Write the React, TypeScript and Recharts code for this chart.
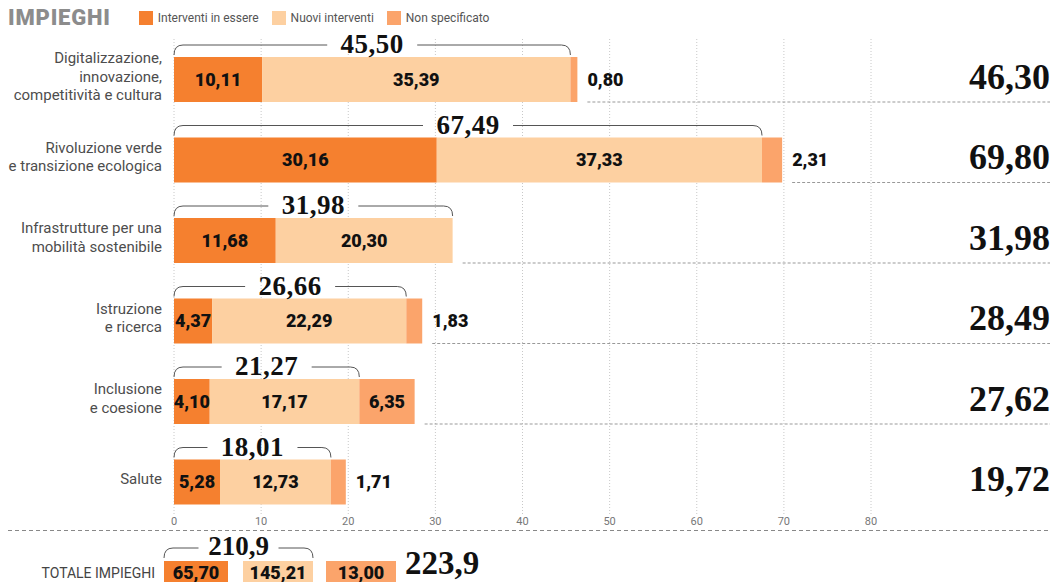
import { BarChart, Bar, XAxis, YAxis, CartesianGrid, LabelList } from "recharts"

if (typeof document !== "undefined") document.body.style.margin = "0"

// ---------------------------------------------------------------------------
// Dati
// ---------------------------------------------------------------------------

const categorie = [
  ["Digitalizzazione,", "innovazione,", "competitività e cultura"],
  ["Rivoluzione verde", "e transizione ecologica"],
  ["Infrastrutture per una", "mobilità sostenibile"],
  ["Istruzione", "e ricerca"],
  ["Inclusione", "e coesione"],
  ["Salute"],
]
const interventiInEssere = [10.11, 30.16, 11.68, 4.37, 4.1, 5.28]
const nuoviInterventi = [35.39, 37.33, 20.3, 22.29, 17.17, 12.73]
const nonSpecificato = [0.8, 2.31, 0, 1.83, 6.35, 1.71]

const xTicks = [0, 10, 20, 30, 40, 50, 60, 70, 80]

const serie = ["Interventi in essere", "Nuovi interventi", "Non specificato"]
const totaleImpieghi = [65.7, 145.21, 13.0]

// ---------------------------------------------------------------------------
// Stile
// ---------------------------------------------------------------------------

const W = 1057
const CHART_H = 530
const RIGHT_EDGE = 1050

const C_ESSERE = "#f5802f"
const C_NUOVI = "#fdd0a1"
const C_NONSPEC = "#fba46b"
const colori = [C_ESSERE, C_NUOVI, C_NONSPEC]

const SANS = "Roboto, 'Noto Sans', sans-serif"
const SERIF = "'Liberation Serif', 'DejaVu Serif', serif"

const fmt = (v: number, d = 2) => v.toFixed(d).replace(".", ",")

const data = categorie.map((lines, i) => ({
  name: lines.join(" "),
  lines,
  essere: interventiInEssere[i],
  nuovi: nuoviInterventi[i],
  nonSpec: nonSpecificato[i],
  sub: interventiInEssere[i] + nuoviInterventi[i],
  tot: interventiInEssere[i] + nuoviInterventi[i] + nonSpecificato[i],
}))

const findRow = (name: string) => data.find((d) => d.name === name)

// ---------------------------------------------------------------------------
// Tick e label
// ---------------------------------------------------------------------------

function CategoryTick({ x, y, payload }: any) {
  const row = findRow(payload.value)
  if (!row) return null
  const lh = 18.5
  const y0 = y - ((row.lines.length - 1) * lh) / 2 - 3
  return (
    <text x={x} y={y0} textAnchor="end" fontSize={15} fill="#4d4d4d" fontFamily={SANS}>
      {row.lines.map((l, i) => (
        <tspan key={i} x={x} y={y0 + i * lh} dy="0.35em">
          {l}
        </tspan>
      ))}
    </text>
  )
}

function TotalTick({ x, y, payload }: any) {
  const row = findRow(payload.value)
  if (!row) return null
  return (
    <text
      x={x + 179}
      y={y - 3}
      dy="0.35em"
      textAnchor="end"
      fontSize={36}
      fontWeight={700}
      fill="#111"
      fontFamily={SERIF}
    >
      {fmt(row.tot)}
    </text>
  )
}

function XTick({ x, y, payload }: any) {
  return (
    <text
      x={x}
      y={y - 1}
      dy="0.35em"
      textAnchor="middle"
      fontSize={11}
      fill="#777"
      fontFamily={SANS}
      stroke="#fff"
      strokeWidth={4}
      paintOrder="stroke"
    >
      {payload.value}
    </text>
  )
}

const valueStyle = {
  fontSize: 18,
  fontWeight: 900,
  fill: "#111",
  fontFamily: SANS,
}

function EssereLabel(props: any) {
  const { x, y, width, height, index } = props
  const d = data[index]
  if (!d) return null
  const unit = width / d.essere
  const subEnd = x + unit * d.sub
  const barEnd = x + unit * d.tot
  const by = y - 12
  const r = 9
  const label = fmt(d.sub)
  const gap = label.length * 7 + 10
  const mid = (x + subEnd) / 2
  return (
    <g>
      <path
        d={`M${x},${y - 2} Q${x},${by} ${x + r},${by} L${mid - gap},${by} M${mid + gap},${by} L${subEnd - r},${by} Q${subEnd},${by} ${subEnd},${y - 2}`}
        fill="none"
        stroke="#555"
        strokeWidth={1}
      />
      <text
        x={mid}
        y={by - 1}
        dy="0.35em"
        textAnchor="middle"
        fontSize={27}
        fontWeight={700}
        letterSpacing={0.5}
        fill="#111"
        fontFamily={SERIF}
      >
        {label}
      </text>
      <text x={x + width / 2} y={y + height / 2} dy="0.35em" textAnchor="middle" {...valueStyle}>
        {fmt(d.essere)}
      </text>
      {index < data.length - 1 && (
        <line
          x1={barEnd + 10}
          x2={RIGHT_EDGE}
          y1={y + height}
          y2={y + height}
          stroke="#999"
          strokeDasharray="3 2"
        />
      )}
    </g>
  )
}

function NuoviLabel(props: any) {
  const { x, y, width, height, value } = props
  return (
    <text x={x + width / 2} y={y + height / 2} dy="0.35em" textAnchor="middle" {...valueStyle}>
      {fmt(value)}
    </text>
  )
}

function NonSpecLabel(props: any) {
  const { x, y, width, height, value } = props
  if (!value) return null
  const inside = width > 40
  return (
    <text
      x={inside ? x + width / 2 : x + width + 10}
      y={y + height / 2}
      dy="0.35em"
      textAnchor={inside ? "middle" : "start"}
      {...valueStyle}
    >
      {fmt(value)}
    </text>
  )
}

// ---------------------------------------------------------------------------
// Riga totale
// ---------------------------------------------------------------------------

function TotaleRow() {
  const boxes = [
    { x: 164, w: 64 },
    { x: 243, w: 70 },
    { x: 326, w: 70 },
  ]
  const sub = totaleImpieghi[0] + totaleImpieghi[1]
  const tot = totaleImpieghi.reduce((a, b) => a + b, 0)
  const bx0 = boxes[0].x
  const bx1 = boxes[1].x + boxes[1].w
  const by = 18
  const mid = (bx0 + bx1) / 2
  const r = 9
  return (
    <svg width={W} height={52} style={{ position: "absolute", left: 0, top: CHART_H, display: "block" }}>
      <line x1={8} x2={RIGHT_EDGE} y1={0.5} y2={0.5} stroke="#888" strokeDasharray="4 3" />
      <text x={155} y={43} dy="0.35em" textAnchor="end" fontSize={14} fill="#444" fontFamily={SANS}>
        TOTALE IMPIEGHI
      </text>
      <path
        d={`M${bx0},${by + 10} Q${bx0},${by} ${bx0 + r},${by} L${mid - 40},${by} M${mid + 40},${by} L${bx1 - r},${by} Q${bx1},${by} ${bx1},${by + 10}`}
        fill="none"
        stroke="#555"
      />
      <text x={mid} y={by - 2} dy="0.35em" textAnchor="middle" fontSize={27} fontWeight={700} fill="#111" fontFamily={SERIF}>
        {fmt(sub, 1)}
      </text>
      {boxes.map((b, i) => (
        <g key={i}>
          <rect x={b.x} y={31} width={b.w} height={21} fill={colori[i]} />
          <text x={b.x + b.w / 2} y={43} dy="0.35em" textAnchor="middle" {...valueStyle}>
            {fmt(totaleImpieghi[i])}
          </text>
        </g>
      ))}
      <text x={405} y={44} fontSize={33} fontWeight={700} fill="#111" fontFamily={SERIF}>
        {fmt(tot, 1)}
      </text>
    </svg>
  )
}

// ---------------------------------------------------------------------------
// App
// ---------------------------------------------------------------------------

export default function App() {
  return (
    <div style={{ position: "relative", width: W, height: 582, background: "#fff", overflow: "hidden" }}>
      <div
        style={{
          position: "absolute",
          left: 8,
          top: 5,
          display: "flex",
          alignItems: "center",
          fontFamily: SANS,
        }}
      >
        <span style={{ fontSize: 22, fontWeight: 900, color: "#8c8c8c", letterSpacing: 0.8, marginRight: 28 }}>
          IMPIEGHI
        </span>
        {serie.map((s, i) => (
          <span key={s} style={{ display: "flex", alignItems: "center", marginRight: 13, fontSize: 12, color: "#555" }}>
            <span style={{ display: "inline-block", width: 14, height: 14, background: colori[i], marginRight: 5 }} />
            {s}
          </span>
        ))}
      </div>

      <BarChart
        width={W}
        height={CHART_H}
        data={data}
        layout="vertical"
        margin={{ top: 39, right: 0, bottom: 0, left: 8 }}
        barSize={45}
        style={{ position: "absolute", left: 0, top: 0 }}
      >
        <CartesianGrid horizontal={false} stroke="#c8c8c8" strokeDasharray="1 2" />
        <XAxis
          type="number"
          domain={[0, 80]}
          ticks={xTicks}
          axisLine={false}
          tickLine={false}
          tickSize={0}
          tickMargin={0}
          height={8}
          tick={<XTick />}
        />
        <YAxis
          yAxisId="left"
          type="category"
          dataKey="name"
          width={166}
          axisLine={false}
          tickLine={false}
          tickSize={0}
          tickMargin={12}
          tick={<CategoryTick />}
        />
        <YAxis
          yAxisId="right"
          orientation="right"
          type="category"
          dataKey="name"
          width={186}
          axisLine={false}
          tickLine={false}
          tickSize={0}
          tickMargin={0}
          tick={<TotalTick />}
        />
        <Bar yAxisId="left" dataKey="essere" stackId="a" fill={C_ESSERE} isAnimationActive={false}>
          <LabelList dataKey="essere" content={<EssereLabel />} />
        </Bar>
        <Bar yAxisId="left" dataKey="nuovi" stackId="a" fill={C_NUOVI} isAnimationActive={false}>
          <LabelList dataKey="nuovi" content={<NuoviLabel />} />
        </Bar>
        <Bar yAxisId="left" dataKey="nonSpec" stackId="a" fill={C_NONSPEC} isAnimationActive={false}>
          <LabelList dataKey="nonSpec" content={<NonSpecLabel />} />
        </Bar>
      </BarChart>

      <TotaleRow />
    </div>
  )
}
